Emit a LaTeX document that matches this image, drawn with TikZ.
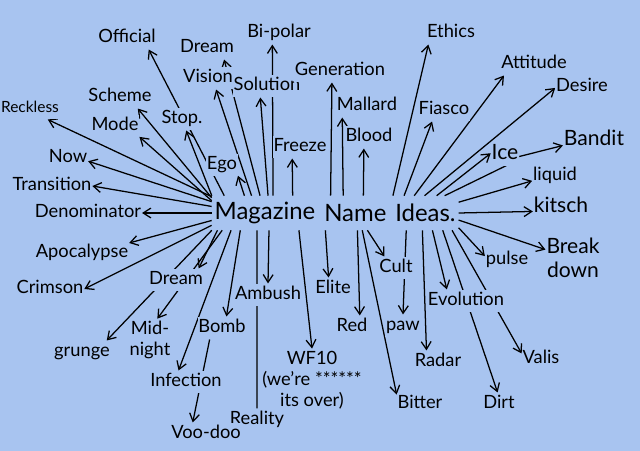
\documentclass[tikz,border=0pt]{standalone}
\usepackage{fontspec}
\setmainfont{Lato}
\usepackage{xcolor}
\usepackage{tikz}
\usetikzlibrary{arrows.meta,positioning,backgrounds}
\definecolor{paper}{RGB}{168,196,240}
\tikzset{
  hub/.style={inner xsep=2pt, inner ysep=0pt, minimum height=0.85cm, font=\fontsize{17}{19}\selectfont},
  word/.style={fill=paper, inner xsep=0.5pt, inner ysep=1.5pt, text height=10pt, text depth=3pt, font=\fontsize{13}{14}\selectfont},
  bigword/.style={word, text height=11pt, font=\fontsize{15}{17}\selectfont},
  smallword/.style={word, font=\fontsize{11}{12}\selectfont},
  lines/.style={fill=paper, inner xsep=0.5pt, inner ysep=1.5pt, align=center, font=\fontsize{13}{15}\selectfont},
  line/.style={-{Straight Barb[length=5.5pt,width=7pt]}, line width=0.9pt},
  bare/.style={line width=0.9pt}
}
\begin{document}
\begin{tikzpicture}[x=0.025cm, y=-0.025cm]
  \useasboundingbox (0,0) rectangle (640,451);
  \node[hub] (mag) at (265,213) {Magazine};
  \node[hub, right=2pt of mag] (name) {Name};
  \node[hub, right=2pt of name] (ideas) {Ideas.};
  \node[word] (official) at (127,38) {Official};
  \node[word] (dreamtop) at (207,48) {Dream};
  \node[word] (bipolar) at (279,33) {Bi-polar};
  \node[word] (vision) at (208,78) {Vision};
  \node[word] (solution) at (267,86) {Solution};
  \node[word] (generation) at (340,71) {Generation};
  \node[word] (ethics) at (451,33) {Ethics};
  \node[word] (attitude) at (534,64) {Attitude};
  \node[word] (desire) at (582,87) {Desire};
  \node[word] (mallard) at (367,106) {Mallard};
  \node[word] (blood) at (369,137) {Blood};
  \node[word] (fiasco) at (444,110) {Fiasco};
  \node[word] (freeze) at (300,147) {Freeze};
  \node[word] (ego) at (222,165) {Ego};
  \node[bigword] (ice) at (505,154) {Ice};
  \node[bigword] (bandit) at (594,140) {Bandit};
  \node[word] (liquid) at (555,176) {liquid};
  \node[bigword] (kitsch) at (561,207) {kitsch};
  \node[lines, font=\fontsize{15}{17}\selectfont] (breakdown) at (573,258) {Break\\down};
  \node[word] (pulse) at (507,260) {pulse};
  \node[word] (evolution) at (466,301) {Evolution};
  \node[word] (valis) at (541,359) {Valis};
  \node[word] (dirt) at (499,404) {Dirt};
  \node[word] (radar) at (438,362) {Radar};
  \node[word] (bitter) at (420,404) {Bitter};
  \node[word] (paw) at (403,326) {paw};
  \node[word] (cult) at (396,268) {Cult};
  \node[word] (red) at (352,327) {Red};
  \node[word] (elite) at (333,289) {Elite};
  \node[lines] (wf10) at (312,380) {WF10\\(we're ******\\its over)};
  \node[word] (ambush) at (268,295) {Ambush};
  \node[word] (reality) at (257,420) {Reality};
  \node[word] (bomb) at (222,328) {Bomb};
  \node[word] (infection) at (186,382) {Infection};
  \node[word] (voodoo) at (206,434) {Voo-doo};
  \node[lines] (midnight) at (150,340) {Mid-\\night};
  \node[word] (grunge) at (82,352) {grunge};
  \node[word] (dreamlow) at (176,280) {Dream};
  \node[word] (crimson) at (50,289) {Crimson};
  \node[word] (apocalypse) at (82,253) {Apocalypse};
  \node[word] (denominator) at (88,213) {Denominator};
  \node[word] (transition) at (52,186) {Transition};
  \node[word] (now) at (68,158) {Now};
  \node[smallword] (reckless) at (30,108) {Reckless};
  \node[word] (scheme) at (120,97) {Scheme};
  \node[word] (mode) at (115,126) {Mode};
  \node[word] (stop) at (182,119) {Stop.};
  \begin{pgfonlayer}{background}
    \fill[paper] (0,0) rectangle (640,451);
    \draw[line] (mag.157) -- (official.-28);
    \draw[line] (mag.163) -- (reckless.-33);
    \draw[line] (mag.164) -- (scheme.-33);
    \draw[line] (mag.167) -- (mode.-24);
    \draw[line] (mag.162) -- (stop.-70);
    \draw[line] (mag.128) -- (vision.-55);
    \draw[line] (mag.106) -- (dreamtop.-34);
    \draw[line] (mag.80) -- (solution.240);
    \draw[line] (mag.65) -- (bipolar.240);
    \draw[line] (mag.140) -- (ego.-34);
    \draw[line] (mag.32) -- (freeze.236);
    \draw[line] (mag.168) -- (now.-9);
    \draw[line] (mag.173) -- (transition.east);
    \draw[line] (mag.180) -- (denominator.east);
    \draw[line] (mag.188) -- (apocalypse.12);
    \draw[line] (mag.193) -- (crimson.east);
    \draw[line] (mag.198) -- (grunge.25);
    \draw[line] (mag.200) -- (dreamlow.27);
    \draw[line] (mag.202) -- (midnight.71);
    \draw[line] (mag.207) -- (infection.123);
    \draw[line] (mag.215) -- (bomb.69);
    \draw[line] (bomb.223) -- (voodoo.139);
    \draw[bare] (mag.245) -- (reality.north);
    \draw[line] (mag.283) -- (ambush.north);
    \draw[line] (mag.333) -- (wf10.north);
    \draw[line] (name.145) -- (generation.235);
    \draw[line] (name.125) -- (mallard.205);
    \draw[line] (name.65) -- (blood.246);
    \draw[line] (name.210) -- (elite.111);
    \draw[line] (name.277) -- (red.56);
    \draw[line] (name.292) -- (bitter.158);
    \draw[line] (name.305) -- (cult.135);
    \draw[line] (ideas.152) -- (ethics.207);
    \draw[line] (ideas.141) -- (fiasco.224);
    \draw[line] (ideas.123) -- (attitude.201);
    \draw[line] (ideas.93) -- (desire.182);
    \draw[line] (ideas.57) -- (ice.177);
    \draw[bare, shorten >=-2pt] (ideas.42) -- (ice.south);
    \draw[line] (ice.-10) -- (bandit.190);
    \draw[line] (ideas.18) -- (liquid.192);
    \draw[line] (ideas.0) -- (kitsch.189);
    \draw[line] (ideas.-12) -- (breakdown.163);
    \draw[line] (ideas.-24) -- (pulse.170);
    \draw[line] (ideas.292) -- (evolution.149);
    \draw[line] (ideas.327) -- (valis.164);
    \draw[line] (ideas.315) -- (dirt.97);
    \draw[line] (ideas.260) -- (radar.135);
    \draw[line] (ideas.222) -- (paw.north);
  \end{pgfonlayer}
\end{tikzpicture}
\end{document}
